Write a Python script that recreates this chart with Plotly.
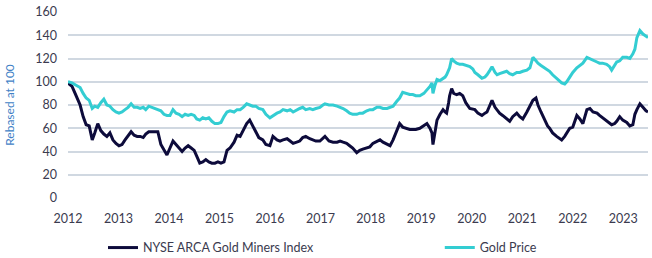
import plotly.graph_objects as go

# Dates as decimal years, values rebased at 100
dates = [
    2012.00, 2012.08, 2012.16, 2012.24, 2012.30, 2012.36, 2012.42, 2012.48, 2012.53, 2012.59,
    2012.65, 2012.71, 2012.77, 2012.83, 2012.89, 2012.95, 2013.01, 2013.07, 2013.13, 2013.19,
    2013.25, 2013.31, 2013.37, 2013.43, 2013.49, 2013.54, 2013.60, 2013.66, 2013.72, 2013.78,
    2013.84, 2013.90, 2013.96, 2014.02, 2014.08, 2014.14, 2014.20, 2014.26, 2014.32, 2014.38,
    2014.44, 2014.50, 2014.55, 2014.61, 2014.67, 2014.73, 2014.79, 2014.85, 2014.91, 2014.97,
    2015.03, 2015.09, 2015.15, 2015.21, 2015.29, 2015.35, 2015.41, 2015.47, 2015.54, 2015.60,
    2015.66, 2015.72, 2015.78, 2015.86, 2015.92, 2016.00, 2016.06, 2016.14, 2016.20, 2016.26,
    2016.34, 2016.40, 2016.46, 2016.53, 2016.59, 2016.65, 2016.71, 2016.79, 2016.85, 2016.91,
    2016.99, 2017.05, 2017.09, 2017.17, 2017.25, 2017.33, 2017.39, 2017.45, 2017.52, 2017.58,
    2017.64, 2017.72, 2017.78, 2017.84, 2017.92, 2017.98, 2018.04, 2018.12, 2018.18, 2018.24,
    2018.32, 2018.38, 2018.44, 2018.51, 2018.57, 2018.63, 2018.69, 2018.77, 2018.83, 2018.89,
    2018.97, 2019.05, 2019.11, 2019.17, 2019.21, 2019.23, 2019.27, 2019.31, 2019.37, 2019.43,
    2019.47, 2019.50, 2019.54, 2019.56, 2019.60, 2019.64, 2019.70, 2019.76, 2019.82, 2019.88,
    2019.96, 2020.02, 2020.06, 2020.12, 2020.20, 2020.26, 2020.30, 2020.36, 2020.40, 2020.46,
    2020.50, 2020.55, 2020.61, 2020.69, 2020.75, 2020.81, 2020.89, 2020.95, 2021.01, 2021.09,
    2021.15, 2021.21, 2021.27, 2021.31, 2021.37, 2021.45, 2021.50, 2021.54, 2021.60, 2021.68,
    2021.74, 2021.78, 2021.84, 2021.88, 2021.94, 2022.00, 2022.08, 2022.14, 2022.20, 2022.28,
    2022.34, 2022.40, 2022.48, 2022.53, 2022.59, 2022.67, 2022.73, 2022.77, 2022.83, 2022.87,
    2022.93, 2022.99, 2023.07, 2023.13, 2023.19, 2023.23, 2023.27, 2023.33, 2023.39, 2023.45,
    2023.49,
]

gold_miners = [
    99, 96, 88, 80, 70, 63, 62, 50, 56, 64,
    58, 55, 53, 56, 50, 47, 45, 46, 50, 54,
    57, 54, 53, 53, 52, 55, 57, 57, 57, 57,
    46, 42, 37, 43, 49, 46, 43, 40, 43, 45,
    43, 41, 36, 30, 31, 33, 31, 30, 30, 31,
    30, 31, 41, 43, 48, 54, 53, 58, 64, 67,
    62, 57, 52, 50, 46, 45, 53, 50, 49, 50,
    51, 49, 47, 48, 49, 52, 53, 51, 50, 49,
    49, 51, 53, 49, 48, 48, 49, 48, 47, 45,
    43, 39, 41, 42, 43, 44, 47, 49, 50, 48,
    46, 45, 50, 58, 64, 61, 60, 59, 59, 59,
    60, 62, 64, 60, 56, 46, 55, 67, 72, 76,
    74, 73, 82, 88, 94, 90, 89, 90, 88, 82,
    77, 76, 76, 73, 71, 73, 74, 80, 84, 78,
    76, 73, 71, 68, 66, 70, 73, 70, 68, 74,
    79, 84, 86, 80, 74, 66, 62, 60, 56, 53,
    51, 50, 53, 56, 60, 61, 71, 68, 64, 76,
    77, 74, 73, 71, 69, 66, 64, 63, 64, 66,
    70, 67, 65, 62, 63, 72, 76, 81, 78, 75,
    74,
]

gold_price = [
    100, 99, 97, 95, 90, 86, 84, 77, 79, 78,
    82, 85, 80, 79, 76, 74, 73, 74, 76, 78,
    81, 78, 78, 77, 78, 76, 79, 78, 77, 76,
    75, 72, 71, 71, 76, 73, 72, 70, 72, 71,
    72, 71, 68, 67, 69, 68, 69, 66, 64, 64,
    65, 70, 74, 75, 74, 76, 76, 78, 81, 80,
    79, 79, 77, 76, 72, 69, 71, 73, 74, 76,
    75, 76, 74, 76, 77, 78, 76, 77, 76, 77,
    78, 80, 81, 80, 80, 79, 78, 77, 75, 73,
    72, 72, 73, 73, 75, 76, 76, 78, 78, 77,
    77, 78, 79, 83, 86, 91, 90, 89, 89, 88,
    88, 90, 93, 96, 99, 90, 97, 102, 101, 103,
    104, 106, 110, 112, 120, 118, 116, 115, 115, 114,
    113, 111, 108, 106, 103, 104, 106, 110, 113, 108,
    106, 107, 108, 109, 107, 106, 108, 108, 109, 110,
    112, 121, 118, 116, 114, 112, 110, 109, 106, 103,
    101, 99, 98, 100, 104, 108, 112, 114, 116, 121,
    120, 119, 117, 116, 116, 115, 113, 110, 114, 117,
    118, 121, 121, 120, 124, 128, 138, 144, 141, 139,
    138,
]

year_ticks = list(range(2012, 2024))
y_ticks = list(range(0, 161, 20))

NAVY = "#0d0b3b"
CYAN = "#33cdd2"
FONT = "Lato"
TXT = "#3b3b4f"

fig = go.Figure()
fig.add_trace(go.Scatter(x=dates, y=gold_miners, mode="lines",
                         name="NYSE ARCA Gold Miners Index", legend="legend",
                         line=dict(color=NAVY, width=3)))
fig.add_trace(go.Scatter(x=dates, y=gold_price, mode="lines",
                         name="Gold Price", legend="legend2",
                         line=dict(color=CYAN, width=3)))

leg_common = dict(orientation="h", xanchor="left", yref="container", y=0.039,
                  yanchor="middle",
                  font=dict(family=FONT, size=12.5, color=TXT),
                  itemwidth=30, bgcolor="rgba(0,0,0,0)")

fig.update_layout(
    width=652, height=258,
    margin=dict(l=68, r=4, t=12, b=60, autoexpand=False),
    paper_bgcolor="white", plot_bgcolor="white",
    font=dict(family=FONT, size=12, color=TXT),
    showlegend=True,
    legend=dict(x=0.0603, **leg_common),
    legend2=dict(x=0.641, **leg_common),
    xaxis=dict(range=[2012, 2023.49], tickmode="array", tickvals=year_ticks,
               ticktext=[str(y) for y in year_ticks], showgrid=False, zeroline=False,
               showline=False, ticks="", ticklabelstandoff=11, automargin=False,
               tickfont=dict(family=FONT, size=12.5, color=TXT)),
    yaxis=dict(range=[0, 160], tickmode="array", tickvals=y_ticks,
               showgrid=True, gridcolor="#d0d8e1", gridwidth=1.5, zeroline=False,
               showline=False, ticks="", ticklabelstandoff=10, automargin=False,
               tickfont=dict(family=FONT, size=12.5, color=TXT),
               title=dict(text="Rebased at 100", standoff=18,
                          font=dict(family=FONT, size=12, color="#3f7fc6"))),
)

fig.write_html("out.html")
